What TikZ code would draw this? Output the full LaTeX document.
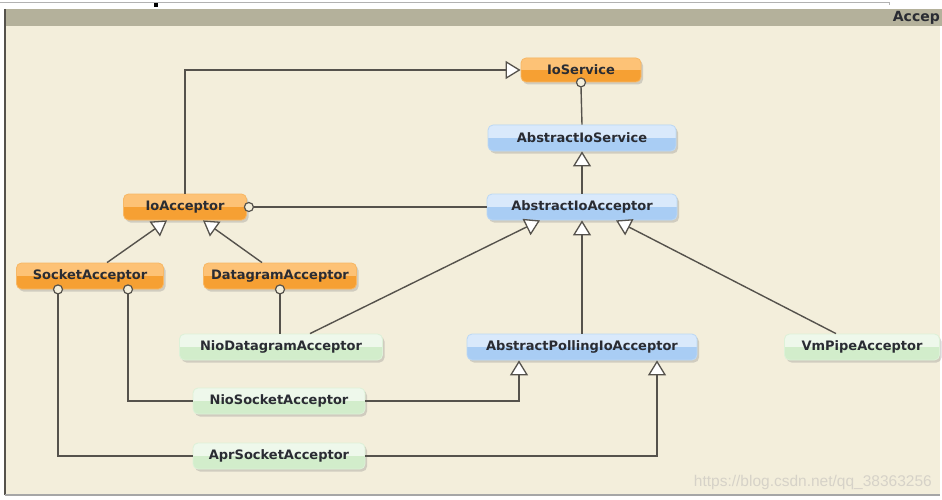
\documentclass[tikz,border=0pt]{standalone}
\usepackage{fontspec}
\setmainfont{DejaVu Sans}
\newfontfamily\wmfont{Liberation Sans}
\usetikzlibrary{arrows.meta,shadows,calc}
\definecolor{cream}{HTML}{F3EEDB}
\definecolor{band}{HTML}{B4B19B}
\definecolor{linec}{HTML}{55524C}
\definecolor{textc}{HTML}{2A2C33}
\definecolor{orT}{HTML}{FDC276}
\definecolor{orB}{HTML}{F6A033}
\definecolor{orE}{HTML}{F7B866}
\definecolor{blT}{HTML}{D9E9FB}
\definecolor{blB}{HTML}{A9CDF4}
\definecolor{blE}{HTML}{BCD8F4}
\definecolor{grT}{HTML}{EEF8EB}
\definecolor{grB}{HTML}{D2EDCB}
\definecolor{grE}{HTML}{DDF1D8}
\definecolor{wm}{HTML}{D6D2C8}
\begin{document}
\begin{tikzpicture}[x=1pt,y=-1pt,
  cls/.style={rounded corners=5pt, minimum height=26pt, inner xsep=0pt,
    font=\bfseries\fontsize{13}{15}\selectfont, text=textc, line width=0.8pt,
    drop shadow={shadow xshift=2pt, shadow yshift=-2.5pt, opacity=0.3}},
  orangebox/.style={cls, fill=orB, draw=orE,
    path picture={\fill[orT, sharp corners] (path picture bounding box.north west) rectangle (path picture bounding box.east);}},
  bluebox/.style={cls, fill=blB, draw=blE,
    path picture={\fill[blT, sharp corners] (path picture bounding box.north west) rectangle (path picture bounding box.east);}},
  greenbox/.style={cls, fill=grB, draw=grE,
    path picture={\fill[grT, sharp corners] (path picture bounding box.north west) rectangle (path picture bounding box.east);}},
  conn/.style={draw=linec, line width=1.4pt},
  gen/.style={conn, -{Triangle[width=18pt,length=15pt,fill=white,line width=1.3pt]}},
  lolli/.style={draw=linec, fill=cream, line width=1.2pt}
]
\useasboundingbox (0,0) rectangle (942,500);
% background
\fill[white] (0,0) rectangle (942,500);
\draw[gray!60, line width=0.8pt] (0,2) -- (889,2) -- (889,5);
\fill[black] (154,3) rectangle (158,7);
\fill[cream] (5,9) rectangle (940,495);
\fill[band] (5,9) rectangle (942,26);
\draw[linec, line width=1.3pt] (5,9) -- (5,495);
\draw[gray!70, line width=1.2pt] (5,495) -- (940,495);
\node[anchor=east, inner sep=0pt, font=\bfseries\fontsize{14}{16}\selectfont, text=textc] (hdr) at (940,18) {Accep};

% nodes
\node[orangebox, minimum width=120, minimum height=24] (IoService) at (581,70) {IoService};
\node[bluebox, minimum width=188] (AbstractIoService) at (582,138) {AbstractIoService};
\node[bluebox, minimum width=190] (AbstractIoAcceptor) at (582,207) {AbstractIoAcceptor};
\node[orangebox, minimum width=123] (IoAcceptor) at (185,207) {IoAcceptor};
\node[orangebox, minimum width=147] (SocketAcceptor) at (90,276) {SocketAcceptor};
\node[orangebox, minimum width=153] (DatagramAcceptor) at (280,276) {DatagramAcceptor};
\node[greenbox, minimum width=203] (NioDatagramAcceptor) at (281,347) {NioDatagramAcceptor};
\node[bluebox, minimum width=230] (AbstractPollingIoAcceptor) at (582,347) {AbstractPollingIoAcceptor};
\node[greenbox, minimum width=155] (VmPipeAcceptor) at (862,347) {VmPipeAcceptor};
\node[greenbox, minimum width=172] (NioSocketAcceptor) at (279,401) {NioSocketAcceptor};
\node[greenbox, minimum width=172] (AprSocketAcceptor) at (279,456) {AprSocketAcceptor};

% connectors
\draw[gen] (IoAcceptor.north) |- (IoService.west);
\draw[conn] ($(IoService.south)+(0,4.5)$) -- (AbstractIoService.north);
\draw[lolli] (IoService.south) circle[radius=4.5pt];
\draw[gen] (AbstractIoAcceptor.north) -- (AbstractIoService.south);
\draw[conn] ($(IoAcceptor.east)+(6.5,0)$) -- (AbstractIoAcceptor.west);
\draw[lolli] ($(IoAcceptor.east)+(2,0)$) circle[radius=4.5pt];
\draw[gen] ($(SocketAcceptor.north)+(17,0)$) -- ($(IoAcceptor.south)+(-18,0)$);
\draw[gen] ($(DatagramAcceptor.north)+(-18,0)$) -- ($(IoAcceptor.south)+(18,0)$);
\draw[conn] ($(SocketAcceptor.south)+(38,4.5)$) |- (NioSocketAcceptor.west);
\draw[lolli] ($(SocketAcceptor.south)+(38,0)$) circle[radius=4.5pt];
\draw[conn] ($(SocketAcceptor.south)+(-32,4.5)$) |- (AprSocketAcceptor.west);
\draw[lolli] ($(SocketAcceptor.south)+(-32,0)$) circle[radius=4.5pt];
\draw[conn] ($(DatagramAcceptor.south)+(0,4.5)$) -- (DatagramAcceptor.south |- NioDatagramAcceptor.north);
\draw[lolli] (DatagramAcceptor.south) circle[radius=4.5pt];
\draw[gen] ($(NioDatagramAcceptor.north)+(29,0)$) -- ($(AbstractIoAcceptor.south)+(-42,0)$);
\draw[gen] (AbstractPollingIoAcceptor.north) -- (AbstractIoAcceptor.south);
\draw[gen] ($(VmPipeAcceptor.north)+(-26,0)$) -- ($(AbstractIoAcceptor.south)+(34,0)$);
\draw[gen] (NioSocketAcceptor.east) -| ($(AbstractPollingIoAcceptor.south)+(-63,0)$);
\draw[gen] (AprSocketAcceptor.east) -| ($(AbstractPollingIoAcceptor.south)+(75,0)$);

% watermark
\node[anchor=east, inner sep=0pt, font=\wmfont\fontsize{15.5}{17}\selectfont, text=wm] (wmk) at (932,482) {https://blog.csdn.net/qq\_38363256};
\end{tikzpicture}
\end{document}
